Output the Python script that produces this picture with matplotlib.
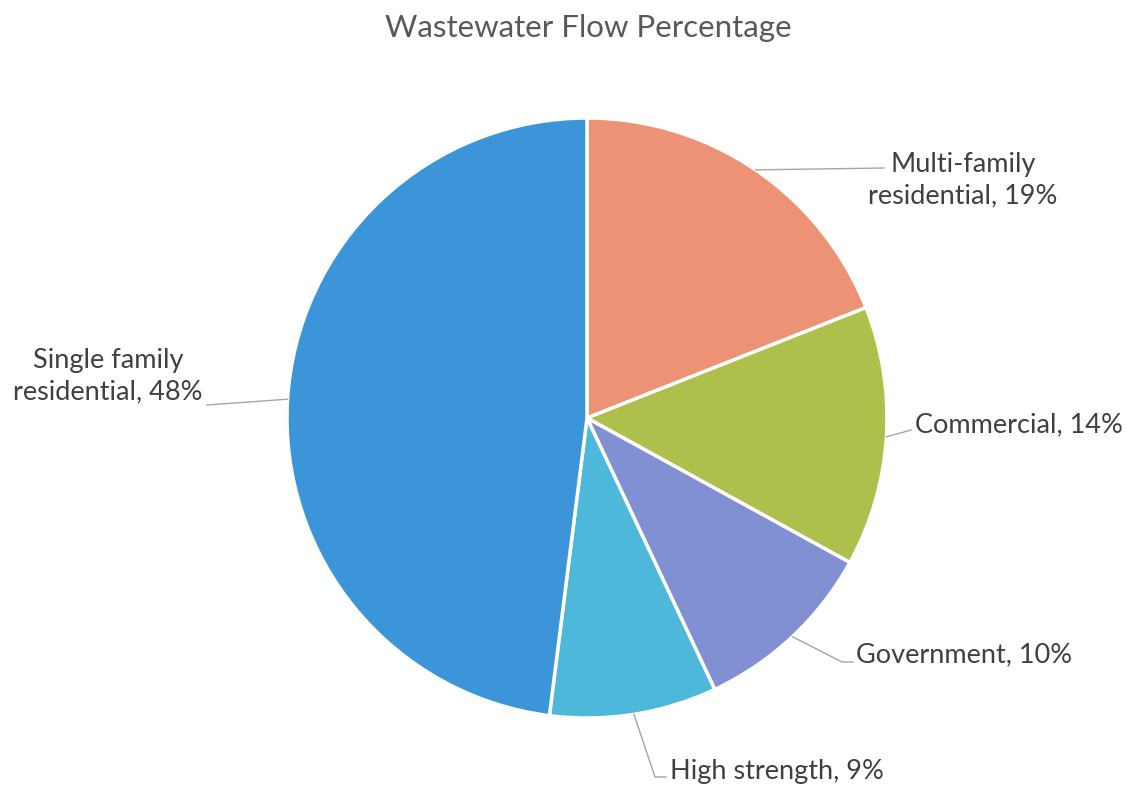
import numpy as np
import matplotlib.pyplot as plt

plt.rcParams['font.family'] = ['Lato', 'DejaVu Sans']

# data
labels = ['Multi-family\nresidential', 'Commercial', 'Government', 'High strength',
          'Single family\nresidential']
values = [19, 14, 10, 9, 48]
colors = ['#EE9276', '#AFBF4B', '#8190D2', '#4DB8DA', '#3D95D9']

# label layout in pixel coords: (elbow, end of line, text pos, ha)
W, H = 1127, 787
cx, cy, R = 587, 418, 300
layout = [
    (None, (884, 168), (963, 180), 'center'),
    (None, (911, 430), (915, 425), 'left'),
    ((842, 662), (853, 662), (856, 655), 'left'),
    ((655, 777), (666, 777), (670, 772), 'left'),
    (None, (207, 405), (108, 376), 'center'),
]


def px(p):
    return ((p[0] - cx) / R, (cy - p[1]) / R)


fig = plt.figure(figsize=(W / 100, H / 100), dpi=100)
ax = fig.add_axes([(cx - R) / W, (H - cy - R) / H, 2 * R / W, 2 * R / H])
wedges, _ = ax.pie(values, colors=colors, startangle=90, counterclock=False,
                   wedgeprops=dict(edgecolor='white', linewidth=2.5))
ax.set_xlim(-1, 1)
ax.set_ylim(-1, 1)
ax.set_aspect('equal')
ax.axis('off')

for w, lab, v, (elbow, end, tpos, ha) in zip(wedges, labels, values, layout):
    ang = np.deg2rad((w.theta1 + w.theta2) / 2)
    pts = [(np.cos(ang), np.sin(ang))]
    if elbow is not None:
        pts.append(px(elbow))
    pts.append(px(end))
    pts = np.array(pts)
    ax.plot(pts[:, 0], pts[:, 1], color='#A5A5A5', lw=1, clip_on=False)
    tx, ty = px(tpos)
    ax.text(tx, ty, '%s, %d%%' % (lab, v), ha=ha, va='center', fontsize=19.5,
            color='#404040', linespacing=1.32, clip_on=False)

fig.text(588 / W, 1 - 28 / H, 'Wastewater Flow Percentage', ha='center', va='center',
         fontsize=22.5, color='#595959')

fig.savefig('out.png', dpi=100, facecolor='white')
